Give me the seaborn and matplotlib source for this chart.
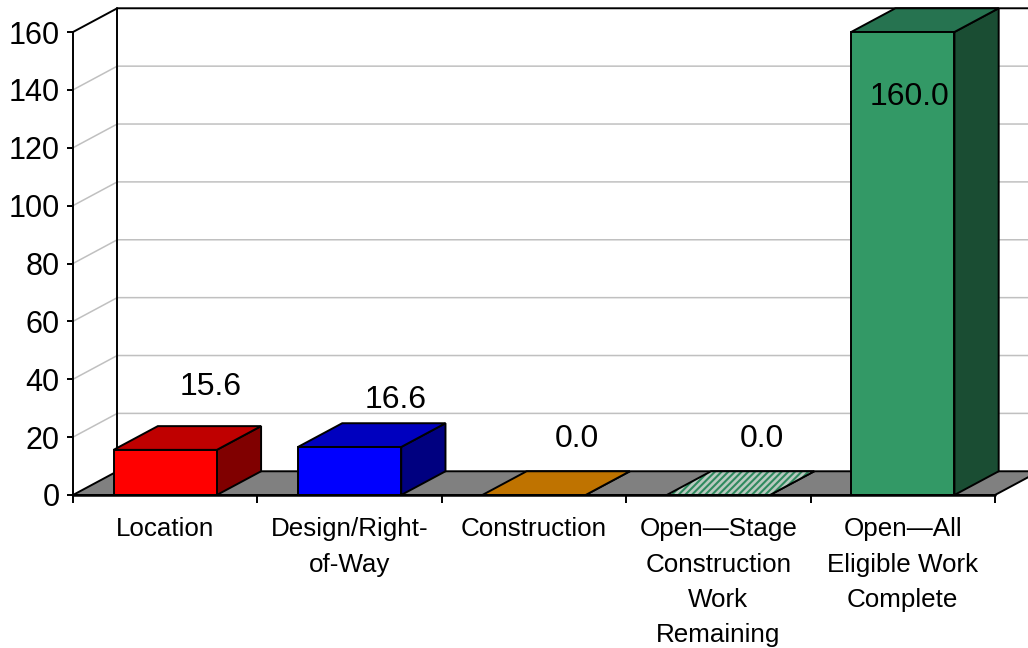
import matplotlib
matplotlib.use("Agg")
import matplotlib.pyplot as plt
import pandas as pd
import seaborn as sns

categories = ["Location", "Design/Right-\nof-Way", "Construction",
              "Open\u2014Stage\nConstruction\nWork\nRemaining",
              "Open\u2014All\nEligible Work\nComplete"]
values = [15.6, 16.6, 0.0, 0.0, 160.0]
value_labels = ["15.6", "16.6", "0.0", "0.0", "160.0"]
yticks = [0, 20, 40, 60, 80, 100, 120, 140, 160]

# colours per bar: front, top, side
front_colors = ["#FF0000", "#0000FF", "#FF9900", "#B9C9C0", "#339966"]
top_colors = ["#BF0000", "#0000BF", "#BF7300", "#B9C9C0", "#267350"]
side_colors = ["#800000", "#000080", "#804D00", "#1A4D33", "#1A4D33"]
# label shift from the bar's front centre/top, in points
label_shift = [(33, 45), (33, 34), (31, 40), (31, 40), (5, -47)]

sns.set_theme(style="white")
plt.rcParams["font.family"] = ["Liberation Sans", "DejaVu Sans"]
plt.rcParams["hatch.linewidth"] = 1.5

fig = plt.figure(figsize=(10.28, 6.48), dpi=100)
ax = fig.add_axes([73 / 1028, (648 - 495) / 648, 922 / 1028, 463 / 648])

df = pd.DataFrame({"cat": categories, "val": values})
sns.barplot(data=df, x="cat", y="val", hue="cat", palette=front_colors, width=0.56,
            legend=False, saturation=1, edgecolor="black", linewidth=1.4, ax=ax, zorder=5)
bars = list(ax.patches)

ax.set_xlim(-0.5, 4.5)
ax.set_ylim(0, 160)
ax.set_xlabel("")
ax.set_ylabel("")

# depth of the fake 3d box, in data units
dx = 0.24
dy = 8.2
x0, x1 = ax.get_xlim()
far = x1 + dx

# back wall and gridlines
for v in yticks[1:-1]:
    ax.plot([x0, x0 + dx, far], [v, v + dy, v + dy], color="#C0C0C0", lw=1.1, clip_on=False, zorder=1)
ax.plot([x0, x0 + dx, far], [160, 160 + dy, 160 + dy], color="black", lw=1.4, clip_on=False, zorder=2)
ax.plot([x0 + dx, x0 + dx], [dy, 160 + dy], color="black", lw=1.4, clip_on=False, zorder=2)

# floor
ax.fill([x0, x0 + dx, far, x1], [0, dy, dy, 0], facecolor="#808080", edgecolor="black",
        lw=1.4, clip_on=False, zorder=3)
ax.plot([x0, x1], [0, 0], color="black", lw=1.8, clip_on=False, zorder=7)

# bar tops and sides, taken from the bars seaborn drew
for i, bar in enumerate(bars):
    bar.set_clip_on(False)
    left = bar.get_x()
    right = left + bar.get_width()
    h = bar.get_height()
    ax.fill([right, right + dx, right + dx, right], [0, dy, h + dy, h], facecolor=side_colors[i],
            edgecolor="black", lw=1.4, clip_on=False, zorder=4)
    if i == 3:
        ax.fill([left, left + dx, right + dx, right], [h, h + dy, h + dy, h], facecolor=top_colors[i],
                edgecolor="#2F8A5E", hatch="/////", lw=0, clip_on=False, zorder=4)
        ax.fill([left, left + dx, right + dx, right], [h, h + dy, h + dy, h], facecolor="none",
                edgecolor="black", lw=1.4, clip_on=False, zorder=4)
    else:
        ax.fill([left, left + dx, right + dx, right], [h, h + dy, h + dy, h], facecolor=top_colors[i],
                edgecolor="black", lw=1.4, clip_on=False, zorder=4)
    ax.annotate(value_labels[i], (left + bar.get_width() / 2, h), xytext=label_shift[i],
                textcoords="offset points", ha="center", va="center", fontsize=23,
                color="black", zorder=8, annotation_clip=False)

for name in ["top", "right", "bottom"]:
    ax.spines[name].set_visible(False)
ax.spines["left"].set_color("black")
ax.spines["left"].set_linewidth(1.4)

ax.set_yticks(yticks)
ax.tick_params(axis="y", left=True, length=4, width=1.4, color="black", labelsize=22, pad=5.5, labelcolor="black")
ax.set_xticks(range(len(categories)))
ax.set_xticklabels(categories, linespacing=1.6)
ax.tick_params(axis="x", which="major", bottom=False, length=0, labelsize=18.7, pad=16, labelcolor="black")
ax.set_xticks([x0 + k for k in range(6)], minor=True)
ax.tick_params(axis="x", which="minor", bottom=True, length=6, width=1.4, color="black")

fig.savefig("out.png", dpi=100, facecolor="white")
